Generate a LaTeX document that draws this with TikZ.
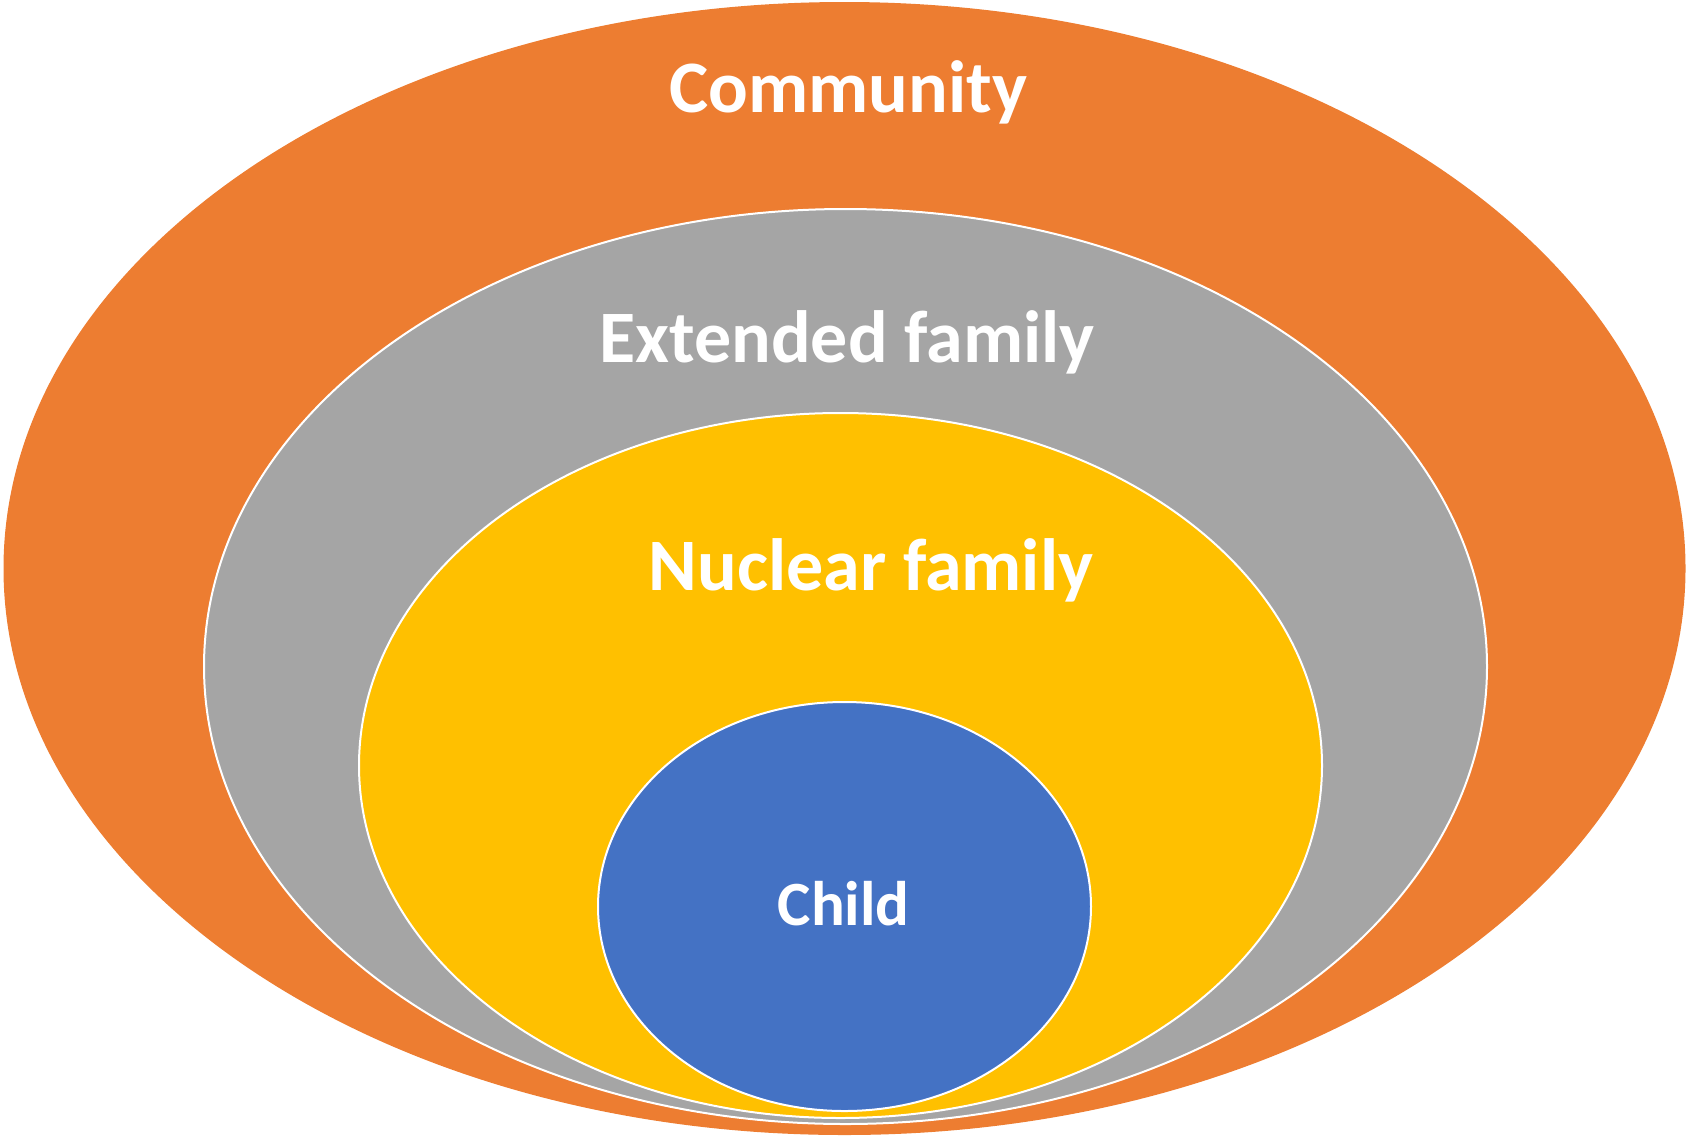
\documentclass[tikz,border=0pt]{standalone}
\usepackage{fontspec}
\setmainfont{Carlito}
\usepackage{tikz}

\definecolor{commorange}{HTML}{ED7D31}
\definecolor{extgray}{HTML}{A5A5A5}
\definecolor{nucyellow}{HTML}{FFC000}
\definecolor{childblue}{HTML}{4472C4}

\begin{document}
\begin{tikzpicture}[x=1pt, y=-1pt,
    ring/.style={draw=white, line width=2pt},
    label/.style={text=white, font=\bfseries\fontsize{74}{80}\selectfont, anchor=base, inner sep=0pt}]
    \useasboundingbox (0,0) rectangle (1686,1136);
% draw rings
    \fill[commorange] (844.5,568.5) ellipse [x radius=841pt, y radius=566.5pt];
    \draw[ring, fill=extgray] (845.5,666.5) ellipse [x radius=641.5pt, y radius=457.5pt];
    \draw[ring, fill=nucyellow] (840.5,765.5) ellipse [x radius=481.5pt, y radius=352.5pt];
    \draw[ring, fill=childblue] (844.5,906.5) ellipse [x radius=246.5pt, y radius=204.5pt];
    % draw labels
    \node[label] (community) at (848.5,112) {Community};
    \node[label] (extended) at (847,362.7) {Extended family};
    \node[label] (nuclear) at (871,590) {Nuclear family};
    \node[label, font=\bfseries\fontsize{63}{70}\selectfont] (child) at (843.7,925) {Child};
\end{tikzpicture}
\end{document}
